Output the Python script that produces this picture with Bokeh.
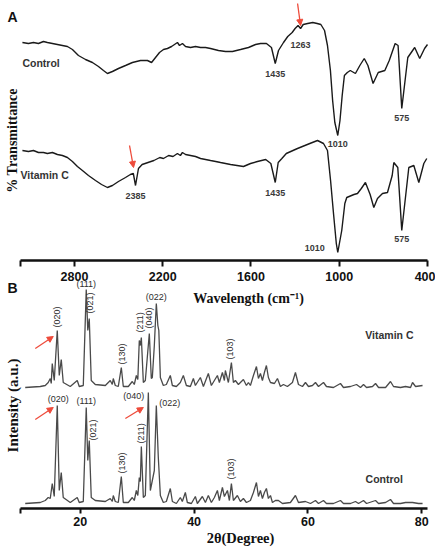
import numpy as np
from math import pi
from bokeh.plotting import figure
from bokeh.models import Range1d, FixedTicker, Arrow, NormalHead, LinearAxis
from bokeh.core.properties import value
from bokeh.embed import file_html
from bokeh.resources import INLINE

# ---------------- FTIR spectra (panel A) ----------------
ftir_ctrl_wn = [
    3154, 3113, 3079, 3045, 3011, 2984, 2950, 2916, 2882, 2848,
    2814, 2773, 2725, 2678, 2637, 2603, 2576, 2542, 2501, 2453,
    2406, 2351, 2304, 2276, 2249, 2222, 2195, 2168, 2140, 2120,
    2100, 2086, 2066, 2045, 2011, 1977, 1943, 1909, 1875, 1821,
    1773, 1726, 1671, 1617, 1569, 1535, 1495, 1461, 1435, 1413,
    1379, 1350, 1320, 1300, 1280, 1263, 1245, 1215, 1180, 1150,
    1125, 1100, 1080, 1060, 1045, 1030, 1010, 995, 980, 965,
    945, 925, 890, 860, 830, 805, 770, 735, 690, 660,
    620, 600, 575, 534, 487, 453, 420, 400,
]
ftir_ctrl_t = [
    108, 107, 108, 107, 109, 108, 107, 106, 105, 104,
    101, 95, 91, 88, 84, 80, 77, 79, 82, 85,
    88, 90, 90, 88, 93, 98, 101, 102, 104, 106,
    108, 105, 107, 104, 103, 104, 103, 103, 102, 100,
    99, 99, 101, 103, 106, 107, 107, 103, 87, 100,
    108, 114, 118, 122, 125, 122, 126, 127, 128, 127,
    126, 120, 105, 80, 50, 28, 15, 30, 55, 75,
    78, 80, 77, 85, 92, 85, 67, 78, 80, 90,
    107, 105, 42, 93, 103, 92, 102, 106,
]
ftir_vitc_wn = [
    3154, 3113, 3079, 3045, 3011, 2984, 2950, 2916, 2882, 2848,
    2814, 2780, 2746, 2705, 2657, 2616, 2576, 2542, 2501, 2453,
    2420, 2400, 2385, 2365, 2340, 2300, 2260, 2220, 2195, 2160,
    2130, 2100, 2080, 2066, 2045, 2011, 1977, 1943, 1909, 1875,
    1840, 1807, 1739, 1651, 1603, 1556, 1500, 1465, 1435, 1415,
    1390, 1360, 1284, 1200, 1148, 1107, 1080, 1059, 1039, 1020,
    1010, 983, 962, 949, 900, 876, 850, 822, 790, 765,
    740, 706, 672, 640, 629, 602, 575, 527, 493, 459,
    425, 405,
]
ftir_vitc_t = [
    110, 109, 110, 108, 108, 107, 108, 106, 105, 103,
    99, 94, 90, 85, 80, 76, 73, 75, 79, 83,
    86, 87, 75, 92, 96, 98, 100, 103, 102, 105,
    104, 107, 105, 108, 106, 105, 104, 102, 101, 100,
    99, 98, 96, 94, 97, 99, 101, 97, 78, 98,
    102, 107, 112, 117, 120, 117, 110, 80, 47, 17,
    8, 30, 57, 63, 66, 67, 72, 78, 66, 53,
    62, 67, 68, 85, 98, 93, 30, 93, 95, 78,
    97, 102,
]
ftir_ctrl_bands = [1435, 1263, 1010, 575]
ftir_vitc_bands = [2385, 1435, 1010, 575]
ftir_ticks = [2800, 2200, 1600, 1000, 400]

# ---------------- XRD patterns (panel B) ----------------
xrd_ctrl_2t = [
    10.33, 12.97, 13.85, 14.37, 14.73, 15.08, 15.43, 15.96, 16.31, 16.66,
    17.01, 18.24, 19.47, 19.82, 20.53, 21.05, 21.32, 21.58, 21.93, 22.64,
    24.40, 25.27, 25.63, 25.80, 26.15, 26.68, 27.21, 27.56, 28.44, 29.14,
    29.49, 29.85, 30.11, 30.37, 30.55, 30.73, 31.08, 31.43, 31.96, 32.31,
    32.66, 33.01, 33.36, 33.71, 34.07, 34.59, 35.12, 35.82, 36.18, 36.88,
    37.58, 37.93, 38.46, 38.81, 39.52, 40.22, 40.57, 41.45, 41.98, 42.50,
    43.03, 43.56, 44.09, 44.44, 44.97, 45.32, 45.85, 46.20, 46.55, 46.90,
    47.60, 48.13, 48.66, 49.19, 49.89, 50.42, 50.95, 51.30, 51.65, 52.00,
    52.35, 52.70, 53.05, 53.41, 53.76, 54.28, 54.81, 55.52, 56.92, 57.80,
    58.33, 59.56, 60.44, 61.32, 61.85, 62.73, 63.25, 64.48, 65.71, 66.24,
    67.47, 68.35, 68.88, 69.76, 70.29, 71.87, 72.40, 73.63, 74.50, 75.03,
    76.26, 77.14, 78.37, 79.43, 80.13,
]
xrd_ctrl_i = [
    0, 1, 3, 6, 5, 20, 7, 98, 13, 31,
    6, 1, 6, 1, 2, 96, 43, 63, 6, 3,
    2, 5, 2, 8, 2, 1, 27, 1, 1, 6,
    3, 13, 8, 26, 22, 57, 6, 8, 111, 13,
    23, 33, 98, 46, 8, 1, 2, 15, 2, 0,
    6, 2, 11, 1, 0, 7, 0, 7, 1, 8,
    1, 6, 13, 3, 16, 7, 13, 3, 20, 3,
    8, 2, 5, 1, 3, 11, 21, 7, 13, 5,
    11, 15, 5, 8, 1, 3, 3, 0, 1, 8,
    1, 2, 0, 3, 0, 3, 0, 0, 3, 0,
    0, 2, 0, 3, 0, 3, 0, 1, 4, 0,
    0, 1, 1, 0, 0,
]
xrd_vitc_2t = [
    10.33, 12.97, 13.85, 14.37, 14.73, 14.90, 15.08, 15.43, 15.96, 16.31,
    16.66, 17.01, 18.24, 19.47, 19.82, 20.53, 21.05, 21.32, 21.58, 21.93,
    22.64, 24.40, 25.27, 25.63, 25.80, 26.15, 26.68, 27.21, 27.56, 28.44,
    29.14, 29.49, 29.85, 30.11, 30.37, 30.55, 30.73, 31.08, 31.43, 32.13,
    32.48, 32.66, 33.01, 33.36, 33.63, 33.80, 34.07, 34.59, 35.12, 35.82,
    36.18, 36.88, 37.58, 38.11, 38.64, 39.34, 39.87, 40.22, 41.10, 41.63,
    42.50, 43.03, 43.56, 44.09, 44.44, 44.97, 45.32, 45.49, 46.02, 46.55,
    46.90, 47.25, 47.78, 48.66, 49.19, 49.54, 49.89, 50.42, 50.95, 51.30,
    51.65, 52.00, 52.35, 52.70, 53.05, 53.41, 54.11, 54.64, 55.16, 55.69,
    56.39, 57.27, 57.80, 58.33, 59.03, 59.56, 60.09, 60.79, 61.32, 61.85,
    62.73, 63.25, 64.48, 65.71, 66.24, 67.47, 68.53, 69.23, 69.76, 70.29,
    71.34, 71.87, 72.40, 73.63, 74.50, 75.03, 76.26, 77.14, 78.02, 78.37,
    78.90, 80.13,
]
xrd_vitc_i = [
    0, 1, 2, 5, 9, 4, 24, 7, 57, 12,
    28, 5, 1, 7, 1, 2, 98, 57, 69, 7,
    3, 2, 7, 3, 9, 2, 1, 20, 1, 1,
    6, 3, 12, 8, 47, 42, 50, 5, 7, 54,
    9, 10, 42, 84, 62, 57, 10, 2, 3, 12,
    2, 1, 5, 12, 2, 1, 9, 2, 10, 1,
    14, 2, 7, 12, 5, 15, 7, 17, 5, 25,
    5, 7, 3, 8, 2, 5, 2, 12, 21, 9,
    14, 7, 15, 22, 10, 5, 4, 9, 1, 3,
    1, 5, 15, 3, 1, 5, 1, 2, 5, 1,
    5, 1, 0, 4, 0, 1, 3, 0, 3, 0,
    1, 4, 0, 0, 6, 1, 0, 1, 0, 5,
    1, 2,
]
hkl_names = ["(020)", "(111)", "(021)", "(130)", "(211)", "(040)", "(022)", "(103)"]
xrd_ctrl_hkl_2t = [15.96, 21.05, 21.58, 27.21, 30.73, 31.96, 33.36, 46.55]
xrd_vitc_hkl_2t = [15.96, 21.05, 21.58, 27.21, 30.73, 32.13, 33.36, 46.55]
xrd_ticks = [20, 40, 60, 80]

# ---------------- geometry & styling ----------------
RED = "#ee4b3b"
SANS = "Liberation Sans"
NARROW = "Liberation Sans Narrow, Liberation Sans"
SERIF = "Liberation Serif"

W, H = 435, 547
AX_LEFT, AX_RIGHT = 20, 427          # both bottom axes span these pixels
A_AXIS_Y, B_AXIS_Y = 260, 508        # vertical pixel rows of the two axes

FTIR_X0, FTIR_X1 = 3167, 400
XRD_X0, XRD_X1 = 9.5, 81.0
CM_PER_PX = (FTIR_X0 - FTIR_X1) / (AX_RIGHT - AX_LEFT)
DEG_PER_PX = (XRD_X1 - XRD_X0) / (AX_RIGHT - AX_LEFT)

# vertical stacking offsets of the two traces in each panel
FTIR_CTRL_SHIFT, FTIR_VITC_SHIFT = 110, 0
XRD_CTRL_SHIFT, XRD_VITC_SHIFT = 5, 121

p = figure(
    width=W, height=H, output_backend="svg", toolbar_location=None,
    x_axis_type=None, y_axis_type=None,
    x_range=Range1d(FTIR_X0 + AX_LEFT * CM_PER_PX, FTIR_X1 - (W - AX_RIGHT) * CM_PER_PX),
    y_range=Range1d(A_AXIS_Y - H, A_AXIS_Y),
    min_border=0, outline_line_color=None,
)
p.extra_x_ranges = {
    "xrd": Range1d(XRD_X0 - AX_LEFT * DEG_PER_PX, XRD_X1 + (W - AX_RIGHT) * DEG_PER_PX),
    "page": Range1d(0, W),
}
p.extra_y_ranges = {
    "xrd": Range1d(B_AXIS_Y - H, B_AXIS_Y),
    "page": Range1d(H, 0),
}


def value_at(xs, ys, x0):
    i = int(np.argmin(np.abs(np.asarray(xs, float) - x0)))
    return ys[i]


def rn(name):
    return {} if name is None else {"x_range_name": name, "y_range_name": name}


def bottom_axis(ticks, start, end, tick_out, standoff, name=None):
    ax = LinearAxis(fixed_location=0, bounds=(min(start, end), max(start, end)),
                    ticker=FixedTicker(ticks=[start] + ticks), **rn(name))
    ax.major_label_overrides = {start: ""}
    ax.axis_line_width = 2.5
    ax.axis_line_color = "#111111"
    ax.major_tick_line_width = 2
    ax.major_tick_line_color = "#111111"
    ax.major_tick_out = tick_out
    ax.major_tick_in = 0
    ax.minor_tick_line_color = None
    ax.major_label_standoff = standoff
    ax.major_label_text_font = NARROW
    ax.major_label_text_font_style = "bold"
    ax.major_label_text_font_size = "12.5px"
    ax.major_label_text_color = "#111111"
    p.add_layout(ax, "below")


def add_text(x, y, text, size="9px", bold=True, align="center",
             baseline="middle", angle=0.0, color="#3a3a3a", font=SANS, name=None):
    p.text(x=x, y=y, text=text, angle=angle,
           text_font=value(font), text_font_size=size,
           text_font_style="bold" if bold else "normal",
           text_color=color, text_align=align, text_baseline=baseline, **rn(name))


def red_arrow(x0, y0, x1, y1, name=None):
    p.add_layout(Arrow(x_start=x0, y_start=y0, x_end=x1, y_end=y1,
                       line_color=RED, line_width=1.3,
                       end=NormalHead(size=6, fill_color=RED, line_color=RED,
                                      line_width=1), **rn(name)))


# ================= Panel A : FTIR =================
bottom_axis(ftir_ticks, FTIR_X0, FTIR_X1, 6, 5)

ctrl_y = [t + FTIR_CTRL_SHIFT for t in ftir_ctrl_t]
vitc_y = [t + FTIR_VITC_SHIFT for t in ftir_vitc_t]
p.line(ftir_ctrl_wn, ctrl_y, line_color="#1a1a1a", line_width=1.4)
p.line(ftir_vitc_wn, vitc_y, line_color="#1a1a1a", line_width=1.4)

# band labels under the control trace
for b in ftir_ctrl_bands:
    yb = value_at(ftir_ctrl_wn, ctrl_y, b)
    gap = {1435: 10, 1263: 16, 1010: 8, 575: 9}[b]
    add_text([b], [yb - gap], [str(b)])
# band labels under the vitamin C trace
for b in ftir_vitc_bands:
    yb = value_at(ftir_vitc_wn, vitc_y, b)
    if b == 1010:
        add_text([b + 13 * CM_PER_PX], [yb + 5], [str(b)], align="right")
    else:
        gap = {2385: 10, 1435: 10, 575: 8}[b]
        add_text([b], [yb - gap], [str(b)])

y1263 = value_at(ftir_ctrl_wn, ctrl_y, 1263)
red_arrow(1263 + 3 * CM_PER_PX, y1263 + 25, 1263, y1263 + 3)
y2385 = value_at(ftir_vitc_wn, vitc_y, 2385)
red_arrow(2385 + 6 * CM_PER_PX, y2385 + 40, 2385 + 2 * CM_PER_PX, y2385 + 18)

add_text([ftir_ctrl_wn[0]], [198], ["Control"], size="10.5px", align="left",
         color="#333333")
add_text([FTIR_X0], [86], ["Vitamin C"], size="10.5px", align="left",
         color="#333333")

# ================= Panel B : XRD =================
bottom_axis(xrd_ticks, XRD_X0, XRD_X1, 5, 3, name="xrd")

xc = [i + XRD_CTRL_SHIFT for i in xrd_ctrl_i]
xv = [i + XRD_VITC_SHIFT for i in xrd_vitc_i]
p.line(xrd_ctrl_2t, xc, line_color="#4a4a4a", line_width=1.3, **rn("xrd"))
p.line(xrd_vitc_2t, xv, line_color="#4a4a4a", line_width=1.3, **rn("xrd"))

# placement of the (hkl) tags: kind, dx (px), dy (px)
vitc_tag = {"(020)": ("v", 0, 3), "(111)": ("h", 0, 1), "(021)": ("v", 1, 5),
            "(130)": ("v", 1, 3), "(211)": ("v", -1, 5), "(040)": ("v", 0, 5),
            "(022)": ("h", 0, 2), "(103)": ("v", -1, 3)}
ctrl_tag = {"(020)": ("h", 1, 2), "(111)": ("h", 0, 2), "(021)": ("v", 4, 0),
            "(130)": ("v", 1, 3), "(211)": ("v", 0, 3), "(040)": ("l", -4, -3),
            "(022)": ("r", 3, 3), "(103)": ("v", 0, 4)}


def tag_peaks(tt, yy, positions, tags):
    for name, pos in zip(hkl_names, positions):
        kind, dx, dy = tags[name]
        x = pos + dx * DEG_PER_PX
        y = value_at(tt, yy, pos) + dy
        common = dict(size="9px", bold=False, color="#2e2e2e", name="xrd")
        if kind == "v":
            add_text([x], [y], [name], align="left", angle=pi / 2, **common)
        elif kind == "h":
            add_text([x], [y], [name], baseline="bottom", **common)
        elif kind == "l":
            add_text([x], [y], [name], align="right", **common)
        else:
            add_text([x], [y], [name], align="left", **common)


tag_peaks(xrd_vitc_2t, xv, xrd_vitc_hkl_2t, vitc_tag)
tag_peaks(xrd_ctrl_2t, xc, xrd_ctrl_hkl_2t, ctrl_tag)

# arrows at the (020) and (040) reflections
p020v = value_at(xrd_vitc_2t, xv, xrd_vitc_hkl_2t[0])
red_arrow(xrd_vitc_hkl_2t[0] - 22 * DEG_PER_PX, p020v - 18,
          xrd_vitc_hkl_2t[0] - 4 * DEG_PER_PX, p020v - 6, name="xrd")
p020c = value_at(xrd_ctrl_2t, xc, xrd_ctrl_hkl_2t[0])
red_arrow(xrd_ctrl_hkl_2t[0] - 22 * DEG_PER_PX, p020c - 14,
          xrd_ctrl_hkl_2t[0] - 4 * DEG_PER_PX, p020c - 2, name="xrd")
p040c = value_at(xrd_ctrl_2t, xc, xrd_ctrl_hkl_2t[5])
red_arrow(xrd_ctrl_hkl_2t[5] - 23 * DEG_PER_PX, p040c - 26,
          xrd_ctrl_hkl_2t[5] - 5 * DEG_PER_PX, p040c - 15, name="xrd")

add_text([74.3], [174], ["Vitamin C"], size="10.5px", color="#333333", name="xrd")
add_text([73.4], [30], ["Control"], size="10.5px", color="#333333", name="xrd")

# ================= titles and panel letters (page pixels) =================
title = dict(font=SERIF, color="#111111", name="page")
add_text([248], [298], ["Wavelength (cm\u207b\u00b9)"], size="14px", **title)
add_text([240], [537], ["2\u03b8(Degree)"], size="14.5px", **title)
add_text([12], [140], ["% Transmittance"], size="14px", angle=pi / 2, **title)
add_text([12], [405], ["Intensity (a.u.)"], size="15px", angle=pi / 2, **title)
add_text([12], [16], ["A"], size="14px", color="#111111", font=NARROW, name="page")
add_text([12], [287], ["B"], size="14px", color="#111111", font=NARROW, name="page")

open("out.html", "w").write(file_html(p, INLINE))
